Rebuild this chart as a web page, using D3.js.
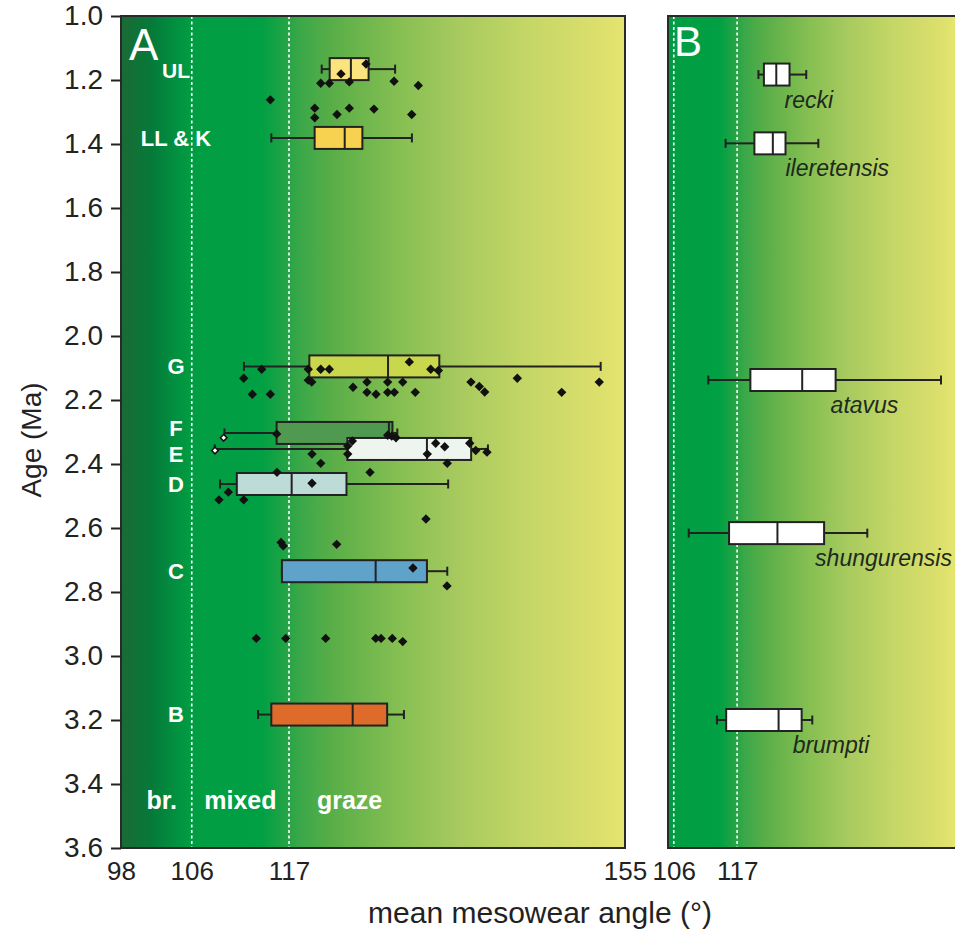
<!DOCTYPE html>
<html>
<head>
<meta charset="utf-8">
<script src="https://d3js.org/d3.v7.min.js"></script>
<style>
  body { margin: 0; background: #fff; }
  svg { display: block; font-family: "Liberation Sans", Arial, sans-serif; }
</style>
</head>
<body>
<svg id="chart" width="955" height="937"></svg>
<script>
// panel A: boxes per member (age in Ma, mesowear angle in degrees)
const groupsA = ["UL", "LL & K", "G", "F", "E", "D", "C", "B"];
const ageA = [1.166, 1.381, 2.095, 2.303, 2.353, 2.4625, 2.735, 3.183];
const loA = [120.7, 115.0, 111.9, 109.7, 108.6, 109.2, 116.2, 113.5];
const q1A = [121.6, 119.9, 119.3, 115.6, 123.6, 111.1, 116.2, 115.0];
const medA = [124.0, 123.3, 128.2, 128.3, 132.6, 117.3, 126.8, 124.2];
const q3A = [126.0, 125.3, 134.0, 128.7, 137.6, 123.5, 132.6, 128.1];
const hiA = [129.0, 130.9, 152.25, 129.25, 139.5, 135.0, 134.9, 130.0];
const fillA = ["#fbe47e", "#f6d250", "#c9d74c", "#4f9a50", "#eef4ee", "#bddcd8", "#5fa3cb", "#df6b2b"];

// individual specimens (filled diamonds)
const ptAngle = [
  125.71, 122.88, 120.59, 121.56, 123.82, 128.88, 131.62,
  114.89, 119.91, 119.91, 122.43, 123.82, 126.61, 130.88,
  130.61, 113.91, 119.18, 120.59, 121.56, 133.03, 133.89, 111.88, 119.18, 119.57,
  125.82, 128.16, 129.86, 137.58, 138.52, 139.13, 142.82, 152.09, 124.24, 112.85,
  114.89, 125.82, 126.84, 128.16, 128.91, 131.28, 147.84,
  115.61, 128.16, 128.62, 129.10, 124.16,
  123.64, 123.64, 119.60, 120.59, 132.64, 133.59, 134.61, 137.44, 138.12, 139.39, 134.90,
  115.64, 126.16, 119.60, 110.14, 109.08, 111.88,
  132.49, 116.10, 116.35, 122.39, 131.02, 134.87,
  113.30, 116.63, 121.15, 126.81, 127.41, 128.68, 129.86
];
const ptAge = [
  1.150, 1.181, 1.210, 1.210, 1.206, 1.204, 1.217,
  1.262, 1.288, 1.318, 1.308, 1.288, 1.291, 1.308,
  2.081, 2.104, 2.104, 2.104, 2.104, 2.104, 2.108, 2.132, 2.138, 2.144,
  2.144, 2.144, 2.144, 2.144, 2.158, 2.175, 2.132, 2.144, 2.160, 2.182,
  2.182, 2.176, 2.182, 2.176, 2.176, 2.176, 2.176,
  2.306, 2.310, 2.313, 2.318, 2.328,
  2.344, 2.369, 2.369, 2.398, 2.369, 2.335, 2.346, 2.335, 2.358, 2.363, 2.398,
  2.426, 2.426, 2.460, 2.488, 2.512, 2.512,
  2.572, 2.645, 2.656, 2.651, 2.725, 2.781,
  2.945, 2.945, 2.945, 2.945, 2.945, 2.945, 2.955
];
// open diamonds (F and E minima)
const openAngle = [109.61, 108.63];
const openAge = [2.318, 2.358];

// panel B: species boxes
const species = ["recki", "ileretensis", "atavus", "shungurensis", "brumpti"];
const ageB = [1.183, 1.398, 2.1375, 2.616, 3.200];
const loB = [120.7, 115.0, 112.0, 108.6, 113.5];
const q1B = [121.65, 120.0, 119.3, 115.6, 115.1];
const medB = [123.8, 123.2, 128.3, 124.0, 124.2];
const q3B = [126.1, 125.4, 134.1, 132.1, 128.2];
const hiB = [129.0, 131.1, 152.4, 139.6, 130.05];

const yTicks = [1.0, 1.2, 1.4, 1.6, 1.8, 2.0, 2.2, 2.4, 2.6, 2.8, 3.0, 3.2, 3.4, 3.6];
const xTicksA = [98, 106, 117, 155];
const xTicksB = [106, 117];
const dietLines = [106, 117];
const dietLabels = ["br.", "mixed", "graze"];
const dietLabelAngle = [102.6, 111.5, 123.85];

// background colour ramp along the angle axis
const rampAngle = [98, 101.5, 104, 106, 114, 117, 118.2, 122, 129.5, 136.3, 144.3, 152.2, 155];
const rampColor = ["#1b6a35", "#057a3a", "#028f3f", "#019d43", "#01a043", "#28a447", "#3aa848",
  "#5aae48", "#86bf52", "#a8ca5f", "#c5d766", "#dcdf6c", "#e5e670"];

const svg = d3.select("#chart");
const yTop = 16, yBottom = 848;

const y = d3.scaleLinear().domain([1.0, 3.6]).range([yTop, yBottom]);
const xA = d3.scaleLinear().domain([98, 155]).range([121, 625]);
const xB = d3.scaleLinear().domain([105, 155]).range([668, 956]);

const defs = svg.append("defs");
function makeRamp(id, x) {
  const g = defs.append("linearGradient").attr("id", id)
    .attr("gradientUnits", "userSpaceOnUse")
    .attr("x1", x(98)).attr("x2", x(155)).attr("y1", 0).attr("y2", 0);
  rampAngle.forEach(function(a, i) {
    g.append("stop").attr("offset", (a - 98) / 57).attr("stop-color", rampColor[i]);
  });
}
makeRamp("rampA", xA);
makeRamp("rampB", xB);

function panel(x, ramp) {
  const g = svg.append("g");
  const [x0, x1] = x.range();
  g.append("rect").attr("x", x0).attr("y", yTop).attr("width", x1 - x0).attr("height", yBottom - yTop)
    .attr("fill", "url(#" + ramp + ")");
  g.selectAll(".diet").data(dietLines).join("line")
    .attr("x1", d => x(d)).attr("x2", d => x(d)).attr("y1", yTop).attr("y2", yBottom)
    .attr("stroke", "#fff").attr("stroke-width", 1.6).attr("stroke-dasharray", "3,2.5");
  return g;
}

function boxes(g, x, ages, lo, q1, med, q3, hi, fills) {
  const h = 22, cap = 9;
  const b = g.selectAll(".box").data(ages).join("g")
    .attr("transform", d => "translate(0," + y(d) + ")");
  b.append("line").attr("x1", (d, i) => x(lo[i])).attr("x2", (d, i) => x(q1[i]))
    .attr("stroke", "#222").attr("stroke-width", 2);
  b.append("line").attr("x1", (d, i) => x(q3[i])).attr("x2", (d, i) => x(hi[i]))
    .attr("stroke", "#222").attr("stroke-width", 2);
  b.append("line").attr("x1", (d, i) => x(lo[i])).attr("x2", (d, i) => x(lo[i]))
    .attr("y1", -cap / 2).attr("y2", cap / 2).attr("stroke", "#222").attr("stroke-width", 2);
  b.append("line").attr("x1", (d, i) => x(hi[i])).attr("x2", (d, i) => x(hi[i]))
    .attr("y1", -cap / 2).attr("y2", cap / 2).attr("stroke", "#222").attr("stroke-width", 2);
  b.append("rect").attr("x", (d, i) => x(q1[i])).attr("y", -h / 2)
    .attr("width", (d, i) => x(q3[i]) - x(q1[i])).attr("height", h)
    .attr("fill", (d, i) => fills[i]).attr("stroke", "#222").attr("stroke-width", 2);
  b.append("line").attr("x1", (d, i) => x(med[i])).attr("x2", (d, i) => x(med[i]))
    .attr("y1", -h / 2).attr("y2", h / 2).attr("stroke", "#222").attr("stroke-width", 2);
  return b;
}

// ---- panel A
const gA = panel(xA, "rampA");
boxes(gA, xA, ageA, loA, q1A, medA, q3A, hiA, fillA);

const diamond = d3.symbol().type(d3.symbolSquare).size(44);
gA.selectAll(".pt").data(ptAngle).join("path")
  .attr("d", diamond)
  .attr("transform", (d, i) => "translate(" + xA(d) + "," + y(ptAge[i]) + ") rotate(45)")
  .attr("fill", "#111");
gA.selectAll(".open").data(openAngle).join("path")
  .attr("d", d3.symbol().type(d3.symbolSquare).size(22))
  .attr("transform", (d, i) => "translate(" + xA(d) + "," + y(openAge[i]) + ") rotate(45)")
  .attr("fill", "#fff").attr("stroke", "#111").attr("stroke-width", 1.5);

// member labels
const labelNudge = { "F": -5, "E": 5 };
gA.selectAll(".grp").data(groupsA.slice(1)).join("text")
  .attr("x", 176).attr("y", (d, i) => y(ageA[i + 1]) + (labelNudge[d] || 0))
  .attr("dy", "0.36em").attr("text-anchor", "middle")
  .attr("fill", "#fff").attr("font-weight", "bold").attr("font-size", 22)
  .text(d => d);
gA.append("text").attr("x", 129).attr("y", 60).attr("fill", "#fff").attr("font-size", 44).text("A");
gA.append("text").attr("x", 162).attr("y", 78).attr("fill", "#fff")
  .attr("font-weight", "bold").attr("font-size", 21).text(groupsA[0]);

gA.selectAll(".diet-label").data(dietLabels).join("text")
  .attr("x", (d, i) => xA(dietLabelAngle[i])).attr("y", 809)
  .attr("text-anchor", "middle").attr("fill", "#fff")
  .attr("font-weight", "bold").attr("font-size", 25).text(d => d);

gA.append("rect").attr("x", 121).attr("y", yTop).attr("width", 504).attr("height", yBottom - yTop)
  .attr("fill", "none").attr("stroke", "#2a2a2a").attr("stroke-width", 2);

// ---- panel B
const gB = panel(xB, "rampB");
boxes(gB, xB, ageB, loB, q1B, medB, q3B, hiB, species.map(() => "#fff"));
const spNudge = { "ileretensis": 5, "shungurensis": -4, "brumpti": -4 };
gB.selectAll(".sp").data(species).join("text")
  .attr("x", (d, i) => xB(q3B[i]) - 5 + (spNudge[d] || 0)).attr("y", (d, i) => y(ageB[i]) + 33)
  .attr("fill", "#1d2a1d").attr("font-style", "italic").attr("font-size", 23)
  .text(d => d);
gB.append("text").attr("x", 674).attr("y", 56).attr("fill", "#fff").attr("font-size", 42).text("B");
gB.append("rect").attr("x", 668).attr("y", yTop).attr("width", 300).attr("height", yBottom - yTop)
  .attr("fill", "none").attr("stroke", "#2a2a2a").attr("stroke-width", 2);

// ---- axes
const yAxis = svg.append("g").attr("transform", "translate(121,0)")
  .call(d3.axisLeft(y).tickValues(yTicks).tickFormat(d3.format(".1f")).tickSize(10).tickPadding(8));
yAxis.select(".domain").remove();
yAxis.selectAll("line").attr("stroke", "#222").attr("stroke-width", 2);
yAxis.selectAll("text").attr("font-size", 28).attr("fill", "#222")
  .attr("font-family", "Liberation Sans, Arial, sans-serif");

function xAxis(x, ticks) {
  const a = svg.append("g").attr("transform", "translate(0," + yBottom + ")")
    .call(d3.axisBottom(x).tickValues(ticks).tickSize(0).tickPadding(14));
  a.select(".domain").remove();
  a.selectAll("text").attr("font-size", 26).attr("fill", "#222")
    .attr("font-family", "Liberation Sans, Arial, sans-serif");
  return a;
}
xAxis(xA, xTicksA);
xAxis(xB, xTicksB);

svg.append("text").attr("x", 540).attr("y", 923).attr("text-anchor", "middle")
  .attr("font-size", 30).attr("fill", "#222").text("mean mesowear angle (°)");
svg.append("text").attr("transform", "translate(41,440) rotate(-90)").attr("text-anchor", "middle")
  .attr("font-size", 28).attr("fill", "#222").text("Age (Ma)");
</script>
</body>
</html>
